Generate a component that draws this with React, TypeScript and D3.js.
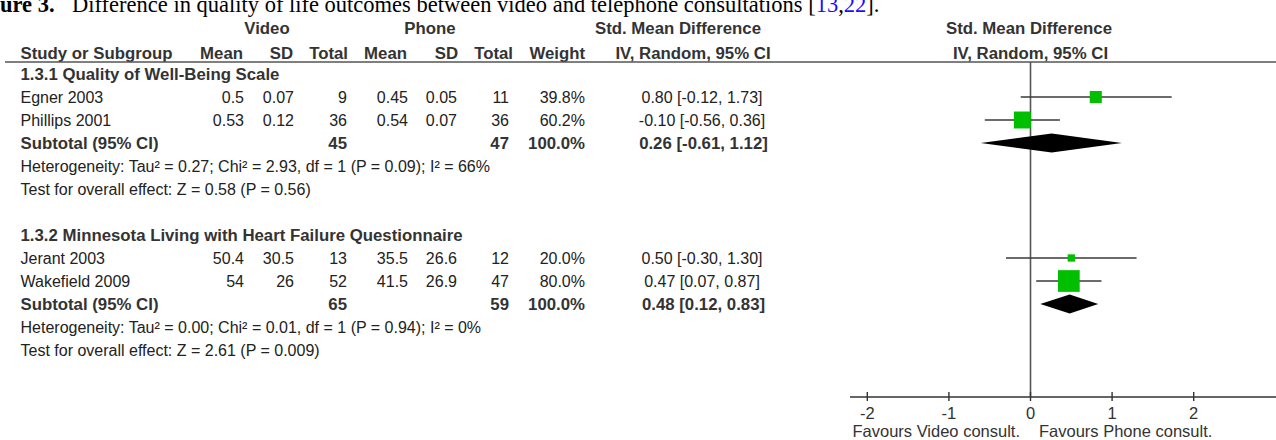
import React from "react";
import * as d3 from "d3";

// ---- data ----
const studies = ["Egner 2003", "Phillips 2001", "Jerant 2003", "Wakefield 2009"];
const studyGroup = [0, 0, 1, 1];
const videoMean = [0.5, 0.53, 50.4, 54];
const videoSD = [0.07, 0.12, 30.5, 26];
const videoTotal = [9, 36, 13, 52];
const phoneMean = [0.45, 0.54, 35.5, 41.5];
const phoneSD = [0.05, 0.07, 26.6, 26.9];
const phoneTotal = [11, 36, 12, 47];
const weights = [39.8, 60.2, 20.0, 80.0];
const smd = [0.8, -0.1, 0.5, 0.47];
const smdLo = [-0.12, -0.56, -0.3, 0.07];
const smdHi = [1.73, 0.36, 1.3, 0.87];

const groupTitles = [
  "1.3.1 Quality of Well-Being Scale",
  "1.3.2 Minnesota Living with Heart Failure Questionnaire",
];
const subVideoTotal = [45, 65];
const subPhoneTotal = [47, 59];
const subWeight = [100.0, 100.0];
const subEst = [0.26, 0.48];
const subLo = [-0.61, 0.12];
const subHi = [1.12, 0.83];
const heterogeneity = [
  "Heterogeneity: Tau² = 0.27; Chi² = 2.93, df = 1 (P = 0.09); I² = 66%",
  "Heterogeneity: Tau² = 0.00; Chi² = 0.01, df = 1 (P = 0.94); I² = 0%",
];
const overallTest = [
  "Test for overall effect: Z = 0.58 (P = 0.56)",
  "Test for overall effect: Z = 2.61 (P = 0.009)",
];
const axisTicks = [-2, -1, 0, 1, 2];
const favoursLeft = "Favours Video consult.";
const favoursRight = "Favours Phone consult.";

// ---- layout ----
const W = 1276;
const H = 440;
const FONT = "'Liberation Sans', Arial, sans-serif";
const FS = 16;
const FSB = 16.8;
const TXT = "#222";
const HDR = "#333";
const LINE = "#555";

const colR = {
  vMean: 244,
  vSD: 294,
  vTot: 347,
  pMean: 408,
  pSD: 457,
  pTot: 509,
  weight: 585,
};
const effCenter = 702;
const labelX = 20.5;

const x = d3.scaleLinear().domain([-2, 2]).range([867.3, 1193.7]);
const rowY = d3.scaleLinear().domain([0, 12]).range([74, 350]);
const sq = d3.scaleLinear().domain([20, 80]).range([7.3, 21.7]);
const headerLineY = 62;
const axisY = 397;
const base = (c: number) => c + 5.7;

const fmtCI = (e: number, l: number, h: number) =>
  `${e.toFixed(2)} [${l.toFixed(2)}, ${h.toFixed(2)}]`;

export default function App() {
  const rows: React.ReactNode[] = [];
  const marks: React.ReactNode[] = [];

  groupTitles.forEach((title, g) => {
    const start = g * 7;
    const idx = studies.map((_, i) => i).filter((i) => studyGroup[i] === g);
    rows.push(
      <text key={`gt${g}`} x={labelX} y={base(rowY(start))} fontWeight="bold" fontSize={FSB} fill={HDR}>
        {title}
      </text>
    );
    idx.forEach((i, k) => {
      const cy = rowY(start + 1 + k);
      const yb = base(cy);
      rows.push(
        <g key={`r${i}`}>
          <text x={labelX} y={yb}>{studies[i]}</text>
          <text x={colR.vMean} y={yb} textAnchor="end">{String(videoMean[i])}</text>
          <text x={colR.vSD} y={yb} textAnchor="end">{String(videoSD[i])}</text>
          <text x={colR.vTot} y={yb} textAnchor="end">{String(videoTotal[i])}</text>
          <text x={colR.pMean} y={yb} textAnchor="end">{String(phoneMean[i])}</text>
          <text x={colR.pSD} y={yb} textAnchor="end">{String(phoneSD[i])}</text>
          <text x={colR.pTot} y={yb} textAnchor="end">{String(phoneTotal[i])}</text>
          <text x={colR.weight} y={yb} textAnchor="end">{weights[i].toFixed(1) + "%"}</text>
          <text x={effCenter} y={yb} textAnchor="middle">{fmtCI(smd[i], smdLo[i], smdHi[i])}</text>
        </g>
      );
      const s = sq(weights[i]);
      marks.push(
        <g key={`m${i}`}>
          <line x1={x(smdLo[i])} x2={x(smdHi[i])} y1={cy} y2={cy} stroke="#3a3a3a" strokeWidth={1.4} />
          <rect x={x(smd[i]) - s / 2} y={cy - s / 2} width={s} height={s} fill="#00bf00" />
        </g>
      );
    });
    const subC = rowY(start + 1 + idx.length);
    const sb = base(subC);
    rows.push(
      <g key={`s${g}`} fontWeight="bold" fontSize={FSB} fill={HDR}>
        <text x={labelX} y={sb}>Subtotal (95% CI)</text>
        <text x={colR.vTot} y={sb} textAnchor="end">{String(subVideoTotal[g])}</text>
        <text x={colR.pTot} y={sb} textAnchor="end">{String(subPhoneTotal[g])}</text>
        <text x={colR.weight} y={sb} textAnchor="end">{subWeight[g].toFixed(1) + "%"}</text>
        <text x={effCenter + 1.5} y={sb} textAnchor="middle">{fmtCI(subEst[g], subLo[g], subHi[g])}</text>
      </g>
    );
    const hh = 9.5;
    const dPath = d3.line()([
      [x(subLo[g]), subC],
      [x(subEst[g]), subC - hh],
      [x(subHi[g]), subC],
      [x(subEst[g]), subC + hh],
    ]) + "Z";
    marks.push(<path key={`d${g}`} d={dPath} fill="#000" />);
    rows.push(
      <text key={`h${g}`} x={labelX} y={base(rowY(start + 2 + idx.length))}>
        {heterogeneity[g]}
      </text>
    );
    rows.push(
      <text key={`t${g}`} x={labelX} y={base(rowY(start + 3 + idx.length))}>
        {overallTest[g]}
      </text>
    );
  });

  return (
    <svg
      width={W}
      height={H}
      viewBox={`0 0 ${W} ${H}`}
      style={{ position: "absolute", left: 0, top: 0, background: "#fff" }}
    >
      {/* caption (top clipped as in the source page) */}
      <g fontFamily="'Liberation Serif', 'Times New Roman', serif" fontSize={22.5} fill="#000">
        <text x={0} y={11.5} fontWeight="bold">ure 3.</text>
        <text x={72} y={11.5}>
          Difference in quality of life outcomes between video and telephone consultations [
          <tspan fill="#1a0dff">13</tspan>,<tspan fill="#1a0dff">22</tspan>].
        </text>
      </g>

      <g fontFamily={FONT} fontSize={FS} fill={TXT}>
        {/* header rows */}
        <g fontWeight="bold" fontSize={FSB} fill={HDR}>
          <text x={267} y={base(28)} textAnchor="middle">Video</text>
          <text x={430} y={base(28)} textAnchor="middle">Phone</text>
          <text x={678} y={base(28)} textAnchor="middle">Std. Mean Difference</text>
          <text x={x(0) - 1.5} y={base(28)} textAnchor="middle">Std. Mean Difference</text>
          <text x={labelX} y={base(53)}>Study or Subgroup</text>
          <text x={243} y={base(53)} textAnchor="end">Mean</text>
          <text x={293} y={base(53)} textAnchor="end">SD</text>
          <text x={348} y={base(53)} textAnchor="end">Total</text>
          <text x={407} y={base(53)} textAnchor="end">Mean</text>
          <text x={458} y={base(53)} textAnchor="end">SD</text>
          <text x={513} y={base(53)} textAnchor="end">Total</text>
          <text x={585} y={base(53)} textAnchor="end">Weight</text>
          <text x={693} y={base(53)} textAnchor="middle">IV, Random, 95% CI</text>
          <text x={x(0)} y={base(53)} textAnchor="middle">IV, Random, 95% CI</text>
        </g>
        <line x1={5} x2={W} y1={headerLineY} y2={headerLineY} stroke={LINE} strokeWidth={1.6} />

        {rows}

        {/* plot */}
        <line x1={x(0)} x2={x(0)} y1={headerLineY} y2={axisY} stroke={LINE} strokeWidth={1.6} />
        {marks}
        <line x1={850} x2={W} y1={axisY} y2={axisY} stroke="#333" strokeWidth={1.4} />
        {axisTicks.map((t) => (
          <g key={`tk${t}`}>
            <line x1={x(t)} x2={x(t)} y1={axisY - 5} y2={axisY + 4} stroke="#333" strokeWidth={1.4} />
            <text x={x(t)} y={419} textAnchor="middle" fontSize={16.5} fill="#333">{String(t)}</text>
          </g>
        ))}
        <text x={x(0) - 10.5} y={437} textAnchor="end" fontSize={16.5} fill="#333">{favoursLeft}</text>
        <text x={x(0) + 8.5} y={437} textAnchor="start" fontSize={16.5} fill="#333">{favoursRight}</text>
      </g>
    </svg>
  );
}
